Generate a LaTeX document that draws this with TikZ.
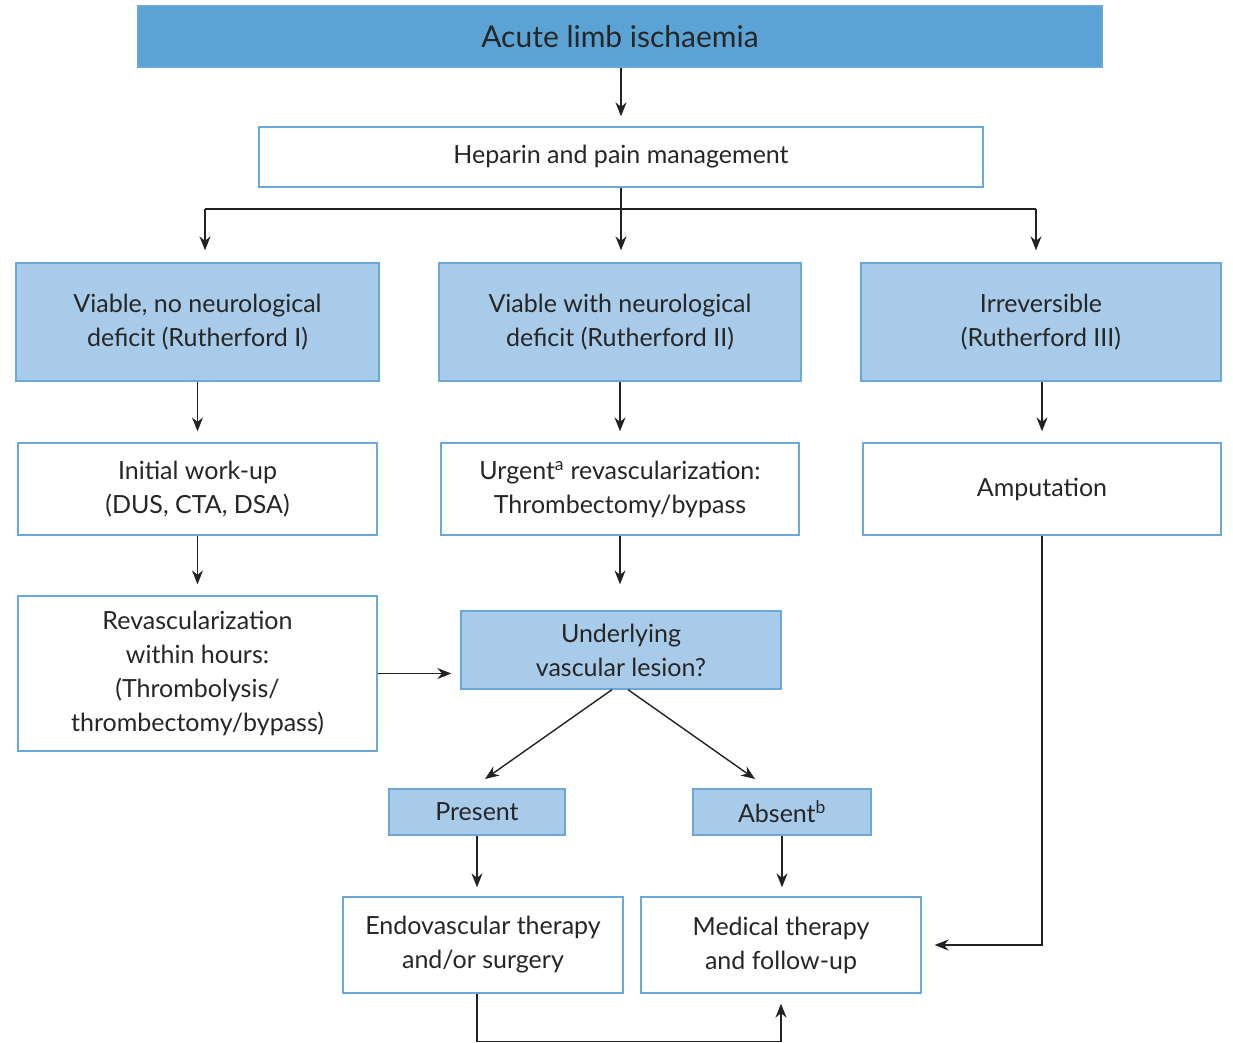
\documentclass[tikz,border=0pt]{standalone}
\usepackage{fontspec}
\setmainfont{Lato}
\usetikzlibrary{arrows.meta}
\definecolor{dblue}{HTML}{5BA3D4}
\definecolor{lblue}{HTML}{A9CBEA}
\definecolor{bord}{HTML}{6BA8DA}
\definecolor{ln}{HTML}{222222}
\begin{document}
\begin{tikzpicture}[x=1pt,y=-1pt,
  box/.style={draw=bord, line width=1.3pt, rectangle, inner sep=0pt, align=center,
    font=\fontsize{25}{34}\selectfont, text=black!85},
  wbox/.style={box, fill=white},
  bbox/.style={box, fill=lblue},
  conn/.style={line width=1.4pt, draw=ln},
  arr/.style={conn, -{Stealth[length=14pt,width=11pt]}}]
\useasboundingbox (0,0) rectangle (1233,1043);
\node[box, fill=dblue, minimum width=964pt, minimum height=61pt,
  font=\fontsize{30}{34}\selectfont] (title) at (620,36.5) {Acute limb ischaemia};
\node[wbox, minimum width=724pt, minimum height=60pt] (hep) at (621,157) {Heparin and pain management};
\node[bbox, minimum width=363pt, minimum height=118pt] (v1) at (197.5,322) {Viable, no neurological\\deficit (Rutherford I)};
\node[bbox, minimum width=362pt, minimum height=118pt] (v2) at (620,322) {Viable with neurological\\deficit (Rutherford II)};
\node[bbox, minimum width=360pt, minimum height=118pt] (v3) at (1041,322) {Irreversible\\(Rutherford III)};
\node[wbox, minimum width=359pt, minimum height=92pt] (w1) at (197.5,489) {Initial work-up\\(DUS, CTA, DSA)};
\node[wbox, minimum width=358pt, minimum height=92pt] (w2) at (620,489) {Urgent\textsuperscript{a} revascularization:\\Thrombectomy/bypass};
\node[wbox, minimum width=358pt, minimum height=92pt] (amp) at (1042,489) {Amputation};
\node[wbox, minimum width=359pt, minimum height=155pt] (rev) at (197.5,673.5) {Revascularization\\within hours:\\(Thrombolysis/\\thrombectomy/bypass)};
\node[bbox, minimum width=320pt, minimum height=78pt] (und) at (621,650) {Underlying\\vascular lesion?};
\node[bbox, minimum width=176pt, minimum height=46pt] (pres) at (477,812) {Present};
\node[bbox, minimum width=178pt, minimum height=46pt] (abs) at (782,812) {Absent\textsuperscript{b}};
\node[wbox, minimum width=280pt, minimum height=96pt] (endo) at (483,945) {Endovascular therapy\\and/or surgery};
\node[wbox, minimum width=280pt, minimum height=96pt] (med) at (781,945) {Medical therapy\\and follow-up};
\coordinate (b1) at (205,209);
\coordinate (b3) at (1036,209);
\coordinate (pt) at (485,779);
\coordinate (at) at (755,779);
\draw[arr, shorten >=10pt] (title.south -| hep.north) -- (hep.north);
\draw[conn] (hep.south) -- (hep.south |- b1) coordinate (bm);
\draw[conn] (b1) -- (b3);
\draw[arr, shorten >=12pt] (b1) -- (b1 |- v1.north);
\draw[arr, shorten >=12pt] (bm) -- (bm |- v2.north);
\draw[arr, shorten >=12pt] (b3) -- (b3 |- v3.north);
\draw[arr, shorten >=11pt] (v1.south) -- (w1.north);
\draw[arr, shorten >=11pt] (v2.south) -- (w2.north);
\draw[arr, shorten >=11pt] (v3.south -| amp.north) -- (amp.north);
\draw[arr, shorten >=11pt] (w1.south) -- (rev.north);
\draw[arr, shorten >=26pt] (w2.south) -- (w2.south |- und.north);
\draw[arr, shorten >=9pt] (rev.east) -- (rev.east -| und.west);
\draw[arr] ([xshift=-9pt]und.south) -- (pt);
\draw[arr] ([xshift=7pt]und.south) -- (at);
\draw[arr, shorten >=9pt] (pres.south) -- (pres.south |- endo.north);
\draw[arr, shorten >=9pt] (abs.south) -- (abs.south |- med.north);
\draw[arr, shorten >=13pt] (amp.south) -- (amp.south |- med.east) -- (med.east);
\draw[arr, shorten >=10pt] (endo.south -| pres.south) -- ++(0,48) -| (med.south);
\end{tikzpicture}
\end{document}
